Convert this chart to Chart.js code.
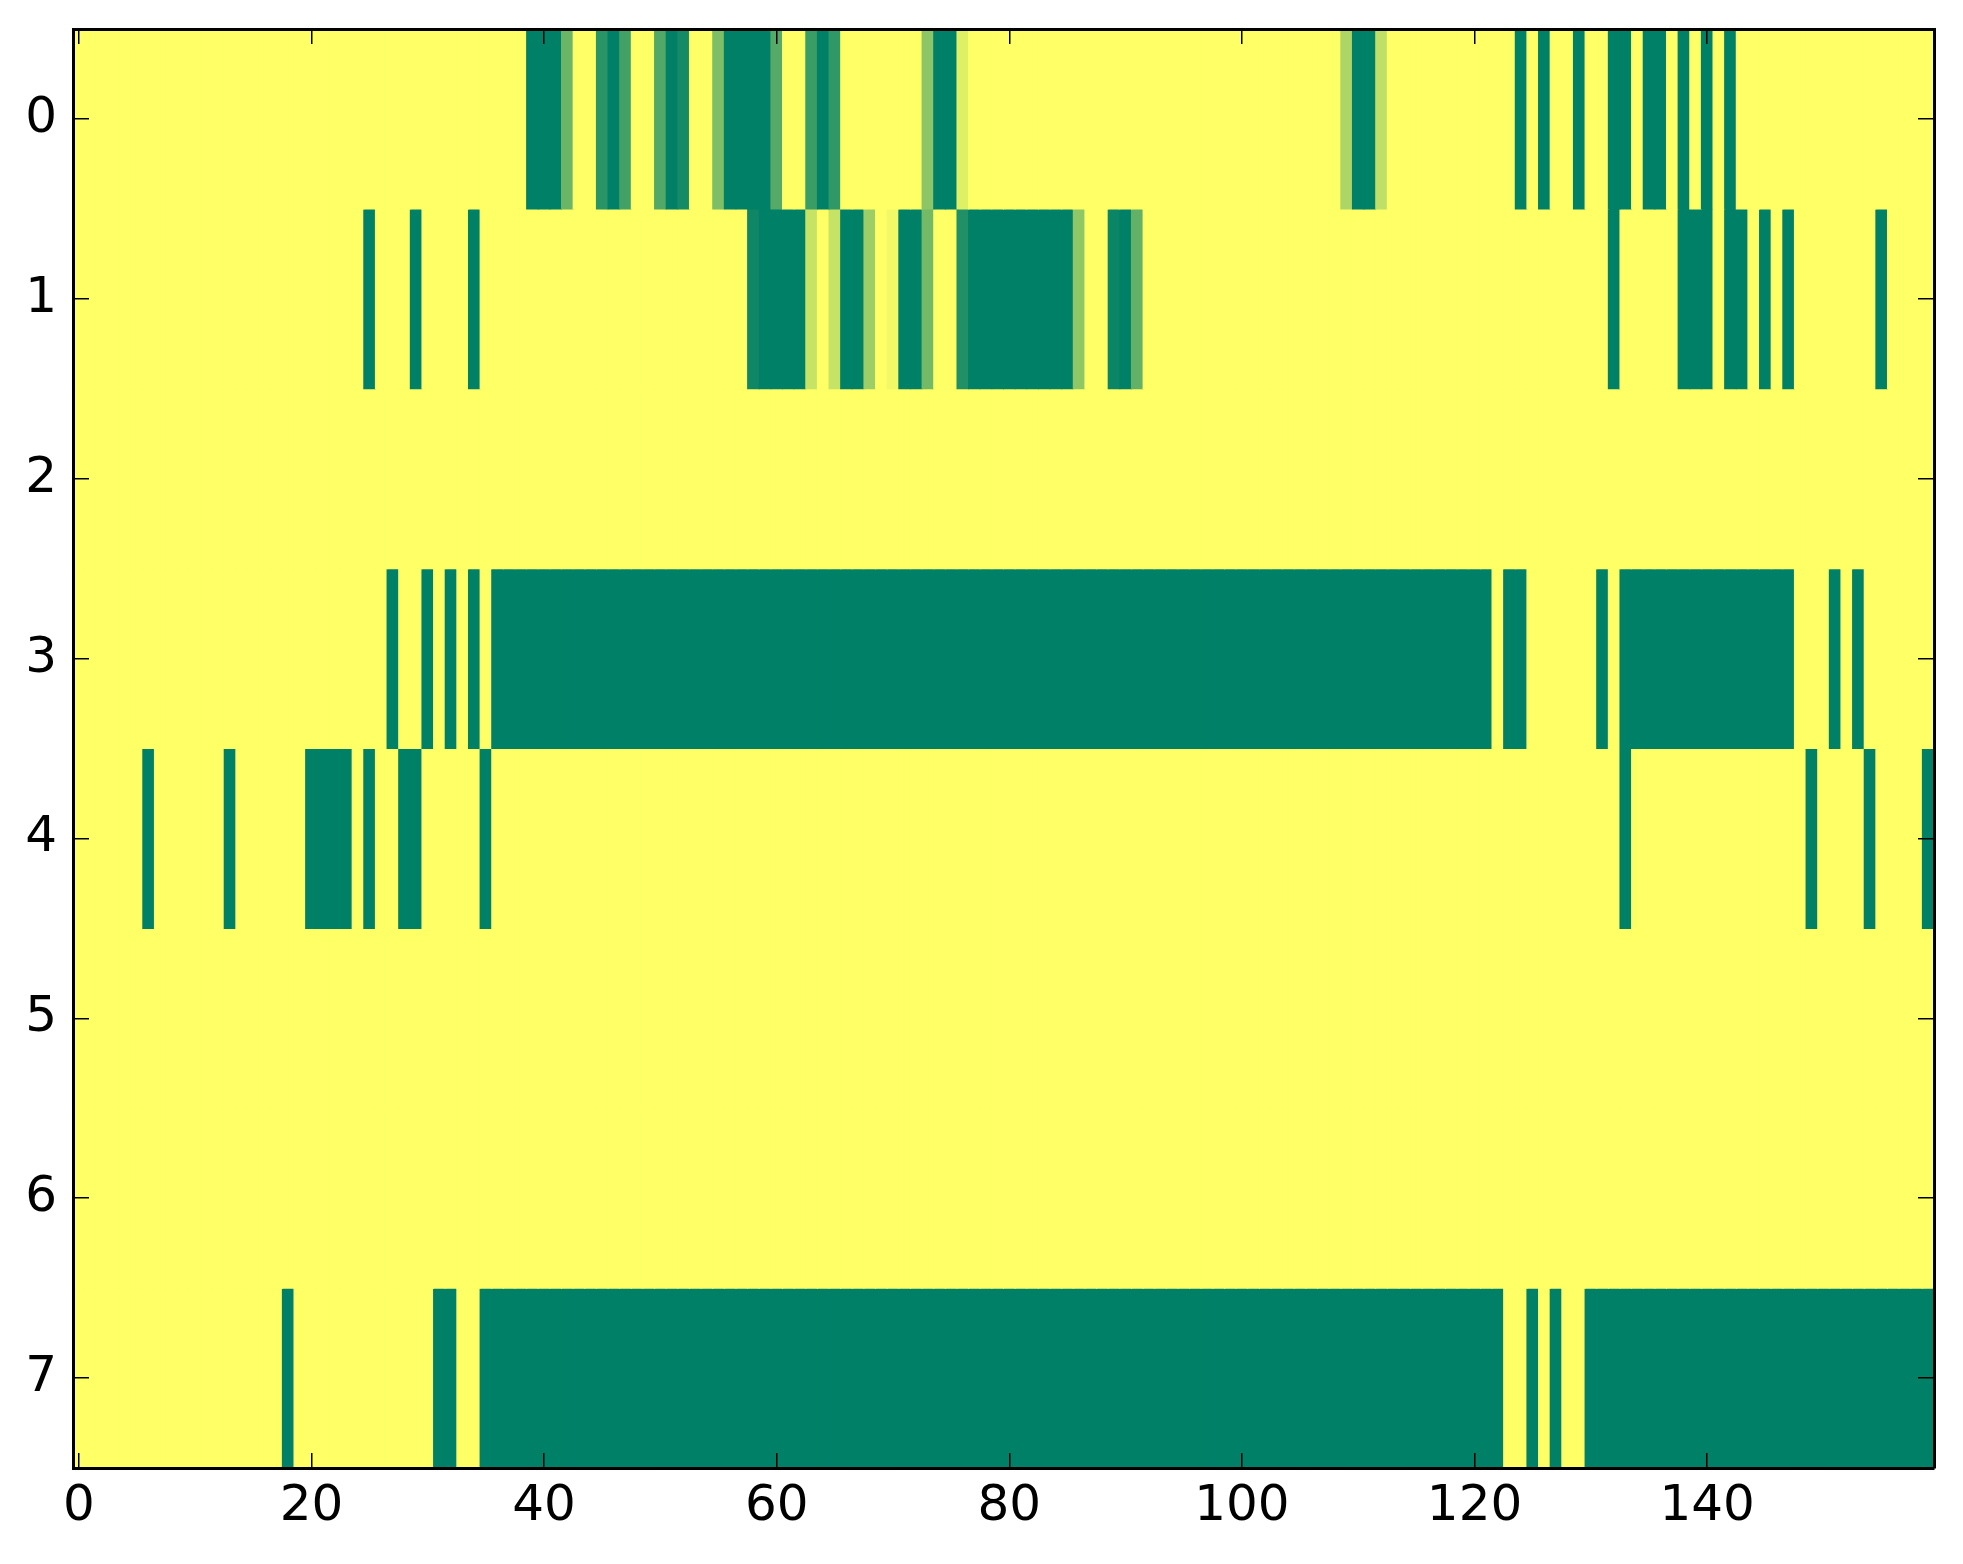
<!DOCTYPE html>
<html>
<head>
<meta charset="utf-8">
<script src="https://cdn.jsdelivr.net/npm/chart.js@4.4.1/dist/chart.umd.min.js"></script>
<style>
  html, body { margin: 0; padding: 0; background: #ffffff; }
  #wrap { width: 1963px; height: 1564px; }
</style>
</head>
<body>
<div id="wrap"><canvas id="heat"></canvas></div>
<script>
// Image rows, 160 columns each (0 = dark green, 1 = yellow, summer colormap)
const row0 = [
  1,1,1,1,1,1,1,1,1,1,1,1,1,1,1,1,1,1,1,1,
  1,1,1,1,1,1,1,1,1,1,1,1,1,1,1,1,1,1,1,0,
  0,0,.42,1,1,.16,0,.26,1,1,.32,0,.08,1,1,.49,0,0,0,0,
  .33,1,1,.23,0,.19,1,1,1,1,1,1,1,.55,0,0,.88,1,1,1,
  1,1,1,1,1,1,1,1,1,1,1,1,1,1,1,1,1,1,1,1,
  1,1,1,1,1,1,1,1,1,.68,0,0,.75,1,1,1,1,1,1,1,
  1,1,1,1,0,1,0,1,1,0,1,1,0,0,1,0,0,1,0,1,
  0,1,0,1,1,1,1,1,1,1,1,1,1,1,1,1,1,1,1,1
];
const row1 = [
  1,1,1,1,1,1,1,1,1,1,1,1,1,1,1,1,1,1,1,1,
  1,1,1,1,1,0,1,1,1,0,1,1,1,1,0,1,1,1,1,1,
  1,1,1,1,1,1,1,1,1,1,1,1,1,1,1,1,1,1,.06,0,
  0,0,0,.78,1,.78,0,0,.61,1,.95,0,0,.45,1,1,.13,0,0,0,
  0,0,0,0,0,0,.56,1,1,.04,0,.39,1,1,1,1,1,1,1,1,
  1,1,1,1,1,1,1,1,1,1,1,1,1,1,1,1,1,1,1,1,
  1,1,1,1,1,1,1,1,1,1,1,1,0,1,1,1,1,1,0,0,
  0,1,0,0,1,0,1,0,1,1,1,1,1,1,1,0,1,1,1,1
];
const row2 = [
  1,1,1,1,1,1,1,1,1,1,1,1,1,1,1,1,1,1,1,1,
  1,1,1,1,1,1,1,1,1,1,1,1,1,1,1,1,1,1,1,1,
  1,1,1,1,1,1,1,1,1,1,1,1,1,1,1,1,1,1,1,1,
  1,1,1,1,1,1,1,1,1,1,1,1,1,1,1,1,1,1,1,1,
  1,1,1,1,1,1,1,1,1,1,1,1,1,1,1,1,1,1,1,1,
  1,1,1,1,1,1,1,1,1,1,1,1,1,1,1,1,1,1,1,1,
  1,1,1,1,1,1,1,1,1,1,1,1,1,1,1,1,1,1,1,1,
  1,1,1,1,1,1,1,1,1,1,1,1,1,1,1,1,1,1,1,1
];
const row3 = [
  1,1,1,1,1,1,1,1,1,1,1,1,1,1,1,1,1,1,1,1,
  1,1,1,1,1,1,1,0,1,1,0,1,0,1,0,1,0,0,0,0,
  0,0,0,0,0,0,0,0,0,0,0,0,0,0,0,0,0,0,0,0,
  0,0,0,0,0,0,0,0,0,0,0,0,0,0,0,0,0,0,0,0,
  0,0,0,0,0,0,0,0,0,0,0,0,0,0,0,0,0,0,0,0,
  0,0,0,0,0,0,0,0,0,0,0,0,0,0,0,0,0,0,0,0,
  0,0,1,0,0,1,1,1,1,1,1,0,1,0,0,0,0,0,0,0,
  0,0,0,0,0,0,0,0,1,1,1,0,1,0,1,1,1,1,1,1
];
const row4 = [
  1,1,1,1,1,1,0,1,1,1,1,1,1,0,1,1,1,1,1,1,
  0,0,0,0,1,0,1,1,0,0,1,1,1,1,1,0,1,1,1,1,
  1,1,1,1,1,1,1,1,1,1,1,1,1,1,1,1,1,1,1,1,
  1,1,1,1,1,1,1,1,1,1,1,1,1,1,1,1,1,1,1,1,
  1,1,1,1,1,1,1,1,1,1,1,1,1,1,1,1,1,1,1,1,
  1,1,1,1,1,1,1,1,1,1,1,1,1,1,1,1,1,1,1,1,
  1,1,1,1,1,1,1,1,1,1,1,1,1,0,1,1,1,1,1,1,
  1,1,1,1,1,1,1,1,1,0,1,1,1,1,0,1,1,1,1,0
];
const row5 = [
  1,1,1,1,1,1,1,1,1,1,1,1,1,1,1,1,1,1,1,1,
  1,1,1,1,1,1,1,1,1,1,1,1,1,1,1,1,1,1,1,1,
  1,1,1,1,1,1,1,1,1,1,1,1,1,1,1,1,1,1,1,1,
  1,1,1,1,1,1,1,1,1,1,1,1,1,1,1,1,1,1,1,1,
  1,1,1,1,1,1,1,1,1,1,1,1,1,1,1,1,1,1,1,1,
  1,1,1,1,1,1,1,1,1,1,1,1,1,1,1,1,1,1,1,1,
  1,1,1,1,1,1,1,1,1,1,1,1,1,1,1,1,1,1,1,1,
  1,1,1,1,1,1,1,1,1,1,1,1,1,1,1,1,1,1,1,1
];
const row6 = [
  1,1,1,1,1,1,1,1,1,1,1,1,1,1,1,1,1,1,1,1,
  1,1,1,1,1,1,1,1,1,1,1,1,1,1,1,1,1,1,1,1,
  1,1,1,1,1,1,1,1,1,1,1,1,1,1,1,1,1,1,1,1,
  1,1,1,1,1,1,1,1,1,1,1,1,1,1,1,1,1,1,1,1,
  1,1,1,1,1,1,1,1,1,1,1,1,1,1,1,1,1,1,1,1,
  1,1,1,1,1,1,1,1,1,1,1,1,1,1,1,1,1,1,1,1,
  1,1,1,1,1,1,1,1,1,1,1,1,1,1,1,1,1,1,1,1,
  1,1,1,1,1,1,1,1,1,1,1,1,1,1,1,1,1,1,1,1
];
const row7 = [
  1,1,1,1,1,1,1,1,1,1,1,1,1,1,1,1,1,1,0,1,
  1,1,1,1,1,1,1,1,1,1,1,0,0,1,1,0,0,0,0,0,
  0,0,0,0,0,0,0,0,0,0,0,0,0,0,0,0,0,0,0,0,
  0,0,0,0,0,0,0,0,0,0,0,0,0,0,0,0,0,0,0,0,
  0,0,0,0,0,0,0,0,0,0,0,0,0,0,0,0,0,0,0,0,
  0,0,0,0,0,0,0,0,0,0,0,0,0,0,0,0,0,0,0,0,
  0,0,0,1,1,0,1,0,1,1,0,0,0,0,0,0,0,0,0,0,
  0,0,0,0,0,0,0,0,0,0,0,0,0,0,0,0,0,0,0,0
];

const rowIds = [0, 1, 2, 3, 4, 5, 6, 7];
const xTicks = [0, 20, 40, 60, 80, 100, 120, 140];
const rows = [row0, row1, row2, row3, row4, row5, row6, row7];

// matplotlib 'summer': r = v, g = 0.5 + v/2, b = 0.4
function summer(v) {
    const r = Math.round(255 * v);
    const g = Math.round(255 * (0.5 + v / 2));
    return `rgb(${r}, ${g}, 102)`;
}

// each cell is a floating horizontal bar one column wide
const datasets = rows.map((vals, r) => ({
    label: 'row ' + rowIds[r],
    data: vals.map((v, c) => ({ x: [c - 0.5, c + 0.5], y: rowIds[r] })),
    backgroundColor: vals.map(summer),
    borderWidth: 0,
    inflateAmount: 0.5,
    barPercentage: 1,
    categoryPercentage: 1,
    grouped: false
}));

const black = '#000000';
const tickFont = { family: 'DejaVu Sans', size: 50 };

function useTicks(list) {
    return scale => { scale.ticks = list.map(v => ({ value: v })); };
}

function fixSize(key, size) {
    return scale => {
        scale[key] = size;
        scale.paddingTop = 0;
        scale.paddingBottom = 0;
        scale.paddingLeft = 0;
        scale.paddingRight = 0;
    };
}

function axisGrid(len) {
    return { drawOnChartArea: false, drawTicks: true, tickLength: len, color: black, lineWidth: 1.5, z: 1, offset: false };
}
const axisBorder = { display: true, color: black, width: 3, z: 1 };

const ctx = document.getElementById('heat').getContext('2d');
const chart = new Chart(ctx, {
    type: 'bar',
    data: { datasets: datasets },
    options: {
        indexAxis: 'y',
        responsive: true,
        maintainAspectRatio: false,
        animation: false,
        events: [],
        layout: { padding: { top: 29, right: 29, bottom: 0, left: 0 } },
        plugins: {
            legend: { display: false },
            tooltip: { enabled: false }
        },
        scales: {
            x: {
                type: 'linear',
                position: 'bottom',
                min: -0.5,
                max: 159.5,
                afterBuildTicks: useTicks(xTicks),
                afterFit: fixSize('height', 96),
                ticks: { font: tickFont, color: black, padding: 24, maxRotation: 0, autoSkip: false },
                grid: axisGrid(-15),
                border: axisBorder
            },
            x2: {
                type: 'linear',
                position: 'top',
                min: -0.5,
                max: 159.5,
                afterBuildTicks: useTicks(xTicks),
                afterFit: fixSize('height', 0),
                ticks: { display: false },
                grid: axisGrid(-15),
                border: axisBorder
            },
            y: {
                type: 'linear',
                position: 'left',
                reverse: true,
                offset: false,
                min: -0.5,
                max: 7.5,
                afterBuildTicks: useTicks(rowIds),
                afterFit: fixSize('width', 73),
                ticks: { font: tickFont, color: black, padding: 32, autoSkip: false },
                grid: axisGrid(-16),
                border: axisBorder
            },
            y2: {
                type: 'linear',
                position: 'right',
                reverse: true,
                offset: false,
                min: -0.5,
                max: 7.5,
                afterBuildTicks: useTicks(rowIds),
                afterFit: fixSize('width', 0),
                ticks: { display: false },
                grid: axisGrid(-16),
                border: axisBorder
            }
        }
    }
});
</script>
</body>
</html>
